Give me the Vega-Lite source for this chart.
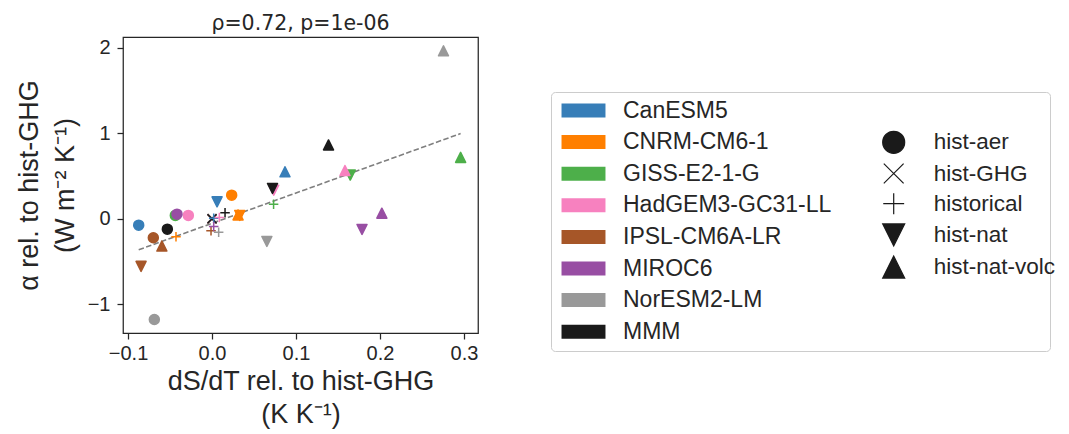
{
  "$schema": "https://vega.github.io/schema/vega-lite/v6.json",
  "width": 355,
  "height": 296,
  "autosize": {"type": "none"},
  "padding": {"left": 123, "top": 37, "right": 591, "bottom": 101},
  "background": "white",
  "config": {
    "font": "Liberation Sans",
    "view": {"stroke": "#262626", "strokeWidth": 1.25},
    "axis": {
      "domain": false,
      "grid": false,
      "tickColor": "#262626",
      "tickWidth": 1.25,
      "tickSize": 6,
      "labelColor": "#262626",
      "titleColor": "#262626",
      "labelFontSize": 20,
      "titleFontSize": 27,
      "titleFontWeight": "normal",
      "labelFont": "Liberation Sans",
      "titleFont": "Liberation Sans"
    },
    "legend": {"labelFont": "Liberation Sans", "labelColor": "#262626", "labelFontSize": 23}
  },
  "title": {
    "text": "ρ=0.72, p=1e-06",
    "fontSize": 20.5,
    "fontWeight": "normal",
    "color": "#262626",
    "font": "DejaVu Sans",
    "anchor": "middle",
    "offset": 3
  },
  "datasets": {
    "points": [
      {"model": "CanESM5", "experiment": "hist-aer", "x": -0.0873, "y": -0.074},
      {"model": "CNRM-CM6-1", "experiment": "hist-aer", "x": 0.0234, "y": 0.277},
      {"model": "GISS-E2-1-G", "experiment": "hist-aer", "x": -0.0437, "y": 0.040},
      {"model": "HadGEM3-GC31-LL", "experiment": "hist-aer", "x": -0.0282, "y": 0.040},
      {"model": "IPSL-CM6A-LR", "experiment": "hist-aer", "x": -0.0699, "y": -0.222},
      {"model": "MIROC6", "experiment": "hist-aer", "x": -0.0417, "y": 0.055},
      {"model": "NorESM2-LM", "experiment": "hist-aer", "x": -0.0687, "y": -1.178},
      {"model": "MMM", "experiment": "hist-aer", "x": -0.0532, "y": -0.121},
      {"model": "CanESM5", "experiment": "hist-GHG", "x": 0, "y": 0},
      {"model": "CNRM-CM6-1", "experiment": "hist-GHG", "x": 0, "y": 0},
      {"model": "GISS-E2-1-G", "experiment": "hist-GHG", "x": 0, "y": 0},
      {"model": "HadGEM3-GC31-LL", "experiment": "hist-GHG", "x": 0, "y": 0},
      {"model": "IPSL-CM6A-LR", "experiment": "hist-GHG", "x": 0, "y": 0},
      {"model": "MIROC6", "experiment": "hist-GHG", "x": 0, "y": 0},
      {"model": "NorESM2-LM", "experiment": "hist-GHG", "x": 0, "y": 0},
      {"model": "MMM", "experiment": "hist-GHG", "x": 0, "y": 0},
      {"model": "CanESM5", "experiment": "historical", "x": 0.002, "y": 0.008},
      {"model": "CNRM-CM6-1", "experiment": "historical", "x": -0.0429, "y": -0.21},
      {"model": "GISS-E2-1-G", "experiment": "historical", "x": 0.0733, "y": 0.172},
      {"model": "HadGEM3-GC31-LL", "experiment": "historical", "x": 0.0087, "y": 0.016},
      {"model": "IPSL-CM6A-LR", "experiment": "historical", "x": -0.0012, "y": -0.14},
      {"model": "MIROC6", "experiment": "historical", "x": 0.002, "y": -0.09},
      {"model": "NorESM2-LM", "experiment": "historical", "x": 0.0079, "y": -0.156},
      {"model": "MMM", "experiment": "historical", "x": 0.0155, "y": 0.07},
      {"model": "CanESM5", "experiment": "hist-nat", "x": 0.006, "y": 0.199},
      {"model": "CNRM-CM6-1", "experiment": "hist-nat", "x": 0.033, "y": 0.04},
      {"model": "GISS-E2-1-G", "experiment": "hist-nat", "x": 0.1646, "y": 0.512},
      {"model": "HadGEM3-GC31-LL", "experiment": "hist-nat", "x": 0.0735, "y": 0.335},
      {"model": "IPSL-CM6A-LR", "experiment": "hist-nat", "x": -0.0845, "y": -0.556},
      {"model": "MIROC6", "experiment": "hist-nat", "x": 0.1786, "y": -0.124},
      {"model": "NorESM2-LM", "experiment": "hist-nat", "x": 0.0653, "y": -0.264},
      {"model": "MMM", "experiment": "hist-nat", "x": 0.072, "y": 0.356},
      {"model": "CanESM5", "experiment": "hist-nat-volc", "x": 0.0869, "y": 0.551},
      {"model": "CNRM-CM6-1", "experiment": "hist-nat-volc", "x": 0.031, "y": 0.046},
      {"model": "GISS-E2-1-G", "experiment": "hist-nat-volc", "x": 0.296, "y": 0.719},
      {"model": "HadGEM3-GC31-LL", "experiment": "hist-nat-volc", "x": 0.1583, "y": 0.566},
      {"model": "IPSL-CM6A-LR", "experiment": "hist-nat-volc", "x": -0.0597, "y": -0.318},
      {"model": "MIROC6", "experiment": "hist-nat-volc", "x": 0.2022, "y": 0.066},
      {"model": "NorESM2-LM", "experiment": "hist-nat-volc", "x": 0.2756, "y": 1.966},
      {"model": "MMM", "experiment": "hist-nat-volc", "x": 0.1387, "y": 0.865}
    ],
    "fit": [
      {"x": -0.0873, "y": -0.362},
      {"x": 0.296, "y": 0.998}
    ]
  },
  "layer": [
    {
      "mark": {"type": "rule", "color": "#cccccc", "strokeWidth": 1.5, "strokeDash": [5.5, 2.4]},
      "encoding": {
        "x": {"datum": 0, "type": "quantitative", "scale": {"domain": [-0.106, 0.3167], "nice": false, "zero": false}, "title": ["dS/dT rel. to hist-GHG", "(K K⁻¹)"]}
      }
    },
    {
      "mark": {"type": "rule", "color": "#cccccc", "strokeWidth": 1.5, "strokeDash": [5.5, 2.4]},
      "encoding": {
        "y": {"datum": 0, "type": "quantitative", "scale": {"domain": [-1.336, 2.128], "nice": false, "zero": false}, "title": ["α rel. to hist-GHG", "(W m⁻² K⁻¹)"]}
      }
    },
    {
      "data": {"name": "fit"},
      "mark": {"type": "line", "color": "#7f7f7f", "strokeWidth": 1.6, "strokeDash": [5.5, 2.4]},
      "encoding": {
        "x": {"field": "x", "type": "quantitative", "scale": {"domain": [-0.106, 0.3167], "nice": false, "zero": false}, "title": ["dS/dT rel. to hist-GHG", "(K K⁻¹)"]},
        "y": {"field": "y", "type": "quantitative", "scale": {"domain": [-1.336, 2.128], "nice": false, "zero": false}, "title": ["α rel. to hist-GHG", "(W m⁻² K⁻¹)"]}
      }
    },
    {
      "data": {"name": "points"},
      "mark": {"type": "point", "filled": true, "opacity": 1, "size": 100, "strokeWidth": 1.5, "strokeJoin": "round"},
      "encoding": {
        "x": {
          "field": "x", "type": "quantitative",
          "scale": {"domain": [-0.106, 0.3167], "nice": false, "zero": false},
          "title": ["dS/dT rel. to hist-GHG", "(K K⁻¹)"],
          "axis": {"values": [-0.1, 0, 0.1, 0.2, 0.3], "labelExpr": "replace(format(datum.value, '.1f'), '-', '−')", "labelPadding": 4, "titlePadding": 5, "titleLineHeight": 33, "labelFlush": false}
        },
        "y": {
          "field": "y", "type": "quantitative",
          "scale": {"domain": [-1.336, 2.128], "nice": false, "zero": false},
          "title": ["α rel. to hist-GHG", "(W m⁻² K⁻¹)"],
          "axis": {"values": [-1, 0, 1, 2], "labelExpr": "replace(format(datum.value, 'd'), '-', '−')", "labelPadding": 7, "titlePadding": 8, "titleLineHeight": 36, "labelFlush": false}
        },
        "color": {
          "field": "model", "type": "nominal",
          "scale": {
            "domain": ["CanESM5", "CNRM-CM6-1", "GISS-E2-1-G", "HadGEM3-GC31-LL", "IPSL-CM6A-LR", "MIROC6", "NorESM2-LM", "MMM"],
            "range": ["#377eb8", "#ff7f00", "#4daf4a", "#f781bf", "#a65628", "#984ea3", "#999999", "#1a1a1a"]
          },
          "legend": {
            "orient": "none", "legendX": 428, "legendY": 55, "title": null,
            "padding": 7, "strokeColor": "#cccccc", "cornerRadius": 4, "fillColor": null,
            "symbolType": "M-3.14,-1H3.14V1H-3.14Z", "symbolSize": 196, "symbolStrokeWidth": 0, "symbolOpacity": 1,
            "symbolOffset": 14, "labelOffset": 28, "rowPadding": 7.6, "labelLimit": 800, "labelFontSize": 23,
            "labelExpr": "datum.label + '                                 \u200b'"
          }
        },
        "stroke": {
          "field": "model", "type": "nominal",
          "scale": {
            "domain": ["CanESM5", "CNRM-CM6-1", "GISS-E2-1-G", "HadGEM3-GC31-LL", "IPSL-CM6A-LR", "MIROC6", "NorESM2-LM", "MMM"],
            "range": ["#377eb8", "#ff7f00", "#4daf4a", "#f781bf", "#a65628", "#984ea3", "#999999", "#1a1a1a"]
          },
          "legend": null
        },
        "shape": {
          "field": "experiment", "type": "nominal",
          "scale": {
            "domain": ["hist-aer", "hist-GHG", "historical", "hist-nat", "hist-nat-volc"],
            "range": ["circle", "M-0.9,-0.9L0.9,0.9M-0.9,0.9L0.9,-0.9", "M-0.95,0H0.95M0,-0.95V0.95", "M-1,-1L1,-1L0,1Z", "M0,-1L-1,1L1,1Z"]
          },
          "legend": {
            "orient": "none", "legendX": 758.7, "legendY": 93.3, "title": null, "padding": 0,
            "symbolSize": 484, "symbolFillColor": "#1a1a1a", "symbolStrokeColor": "#1a1a1a", "symbolStrokeWidth": 1.2, "symbolOpacity": 1,
            "labelOffset": 28, "rowPadding": 4.2, "labelFontSize": 22.5
          }
        }
      }
    }
  ]
}
